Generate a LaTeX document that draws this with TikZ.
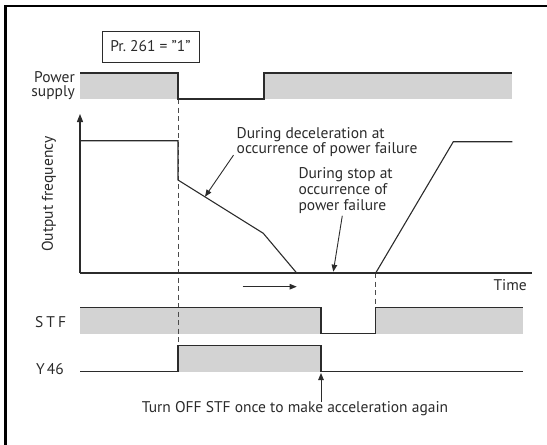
\documentclass[tikz,border=0pt]{standalone}
\usepackage{fontspec}
\setmainfont{PT Sans}
\usetikzlibrary{arrows.meta}
\definecolor{ln}{HTML}{2B2B2B}
\definecolor{sig}{HTML}{D3D3D3}
\begin{document}
\begin{tikzpicture}[x=1pt,y=-1pt,
  wave/.style={draw=ln,line width=1.1pt,line join=miter},
  guide/.style={draw=ln!85,line width=0.9pt,dash pattern=on 5pt off 3.5pt},
  pointer/.style={draw=ln,line width=0.9pt,-{Triangle[length=7pt,width=5.5pt]}},
  lbl/.style={font=\fontsize{15.5}{15.8}\selectfont,inner sep=0pt,text=ln},
  frameline/.style={draw=black,line width=2.3pt}]
\useasboundingbox (0,0) rectangle (547,445);
% frame (top and left only)
\draw[frameline] (5.5,445) -- (5.5,6.2) -- (547,6.2);
% grey signal areas
\fill[sig] (80,73) rectangle (178,99);
\fill[sig] (264,73) rectangle (512,99);
\fill[sig] (80,307.7) rectangle (321,333.5);
\fill[sig] (376,307.7) rectangle (522.7,333.5);
\fill[sig] (178,345.7) rectangle (321,371.7);
% dashed guides
\draw[guide] (178,99) -- (178,345.7);
\draw[guide] (375.7,273) -- (375.7,307.7);
% power supply
\draw[wave] (80,73) -- (178,73) -- (178,99) -- (264,99) -- (264,73) -- (512,73);
% axes
\draw[wave,-{Triangle[length=8pt,width=6pt]}] (80,273) -- (80,114);
\draw[wave] (80,273) -- (531.7,273);
% output frequency
\draw[wave] (80,140.7) -- (178,140.7) -- (178,180) -- (263.3,233.3) -- (296.7,273);
\draw[wave] (375.7,273) -- (453.3,141.7) -- (512.3,141.7);
% STF
\draw[wave] (80,307.7) -- (321,307.7) -- (321,333.5) -- (375.7,333.5) -- (375.7,307.7) -- (522.7,307.7);
% Y46
\draw[wave] (80,371.7) -- (178,371.7) -- (178,345.7) -- (321,345.7) -- (321,371.7) -- (522.7,371.7);
% labels
\node[draw=ln,line width=0.9pt,minimum width=97pt,minimum height=31pt,lbl] (pr) at (150.5,46.5) {Pr.\ 261 = "1"};
\node[lbl,anchor=east,align=right,font=\fontsize{15.5}{14}\selectfont] (power) at (75,86) {Power\\supply};
\node[lbl,rotate=90] (of) at (49,194) {Output frequency};
\node[lbl,anchor=west,align=left] (dec) at (236.5,142) {During deceleration at\\occurrence of power failure};
\node[lbl,anchor=west,align=left] (stop) at (298.3,190.7) {During stop at\\occurrence of\\power failure};
\node[lbl,anchor=east] (time) at (527,285) {Time};
\node[lbl,anchor=west] (stf) at (35,322) {S\hspace{3pt}T\hspace{3pt}F};
\node[lbl,anchor=west] (y46) at (36,369) {Y\hspace{2pt}46};
\node[lbl] (note) at (295,409) {Turn OFF STF once to make acceleration again};
% pointers
\coordinate (decp) at (205,196.7);
\coordinate (stopp) at (333.3,271.7);
\coordinate (ta) at (242.7,286.7);
\coordinate (tb) at (296.7,286.7);
\coordinate (yfall) at (321,373);
\draw[pointer] ([xshift=-3pt,yshift=2pt]dec.south west) -- (decp);
\draw[pointer] ([xshift=44pt,yshift=-2pt]stop.south west) -- (stopp);
\draw[pointer] (ta) -- (tb);
\draw[pointer] (note.north -| yfall) -- (yfall);
\end{tikzpicture}
\end{document}
